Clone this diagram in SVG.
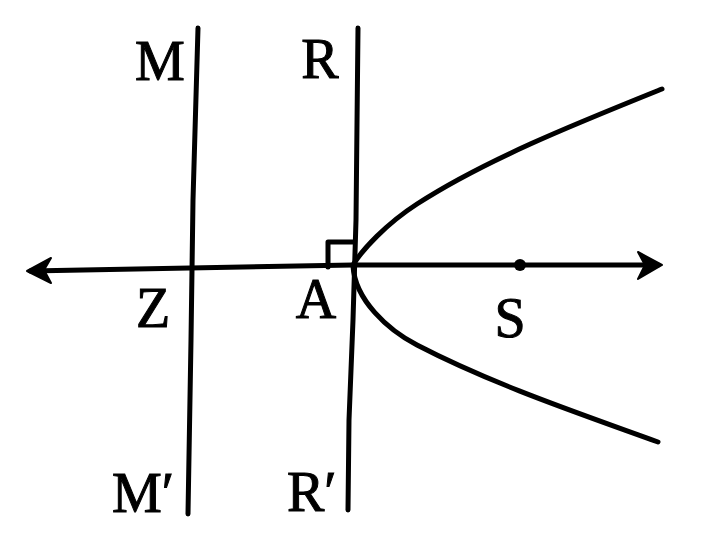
<svg xmlns="http://www.w3.org/2000/svg" width="717" height="543" viewBox="0 0 717 543">
<style>
.ln{fill:none;stroke:#000;stroke-width:5;stroke-linecap:round;stroke-linejoin:round}
.lb{font-family:"Liberation Serif","Times New Roman",serif;font-size:56px;fill:#000;stroke:#000;stroke-width:1}
.ah{fill:#000;stroke:#000;stroke-width:2;stroke-linejoin:round}
</style>
<rect width="717" height="543" fill="#fff"/>
<g id="connectors">
<g id="axis">
<polyline class="ln" points="30,271 353,265 658,265"/>
<path class="ah" d="M27,271 L51,258 L44,270 L51,283 Z"/>
<path class="ah" d="M662,265 L638,252 L645,265 L638,279 Z"/>
</g>
<polyline id="line-MM" class="ln" points="198,28 193,200 191,340 188,514"/>
<polyline id="line-RR" class="ln" points="358,28 356,220 353,320 349,420 348,510"/>
<polyline id="right-angle" class="ln" points="328,267 328,242 354,242"/>
<path id="parabola" class="ln" d="M353,265 C362,250 386,224 417,204 C485,160 575,124 662,89 M353,266 C355,300 388,330 417,345 C492,384 578,413 658,442"/>
</g>
<g id="node-S"><circle cx="520" cy="265" r="6"/><text class="lb" x="510" y="337" text-anchor="middle">S</text></g>
<g id="node-M"><text class="lb" x="160" y="80" text-anchor="middle">M</text></g>
<g id="node-R"><text class="lb" x="320" y="78" text-anchor="middle">R</text></g>
<g id="node-M2"><text class="lb" x="112" y="512">M′</text></g>
<g id="node-R2"><text class="lb" x="287" y="511">R′</text></g>
<g id="node-Z"><text class="lb" x="153" y="327" text-anchor="middle">Z</text></g>
<g id="node-A"><text class="lb" x="316" y="318" text-anchor="middle">A</text></g>
</svg>
